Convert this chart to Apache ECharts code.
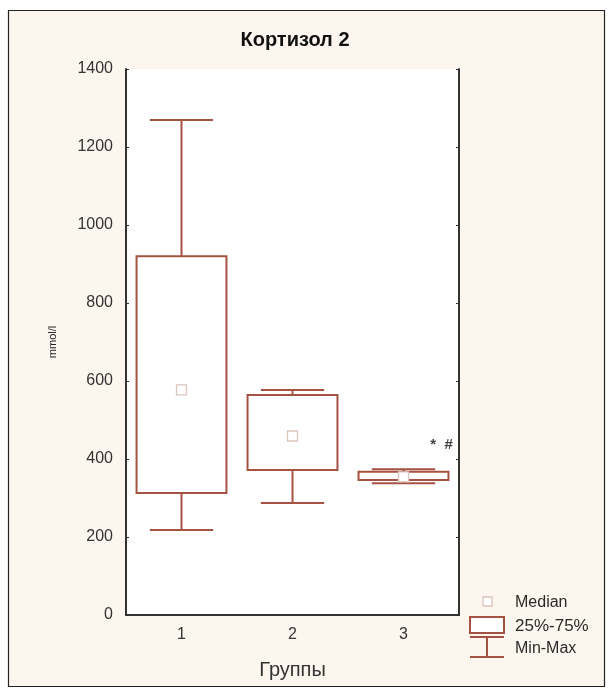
<!DOCTYPE html>
<html>
<head>
<meta charset="utf-8">
<script src="https://cdn.jsdelivr.net/npm/echarts@6/dist/echarts.min.js"></script>
<style>
html,body{margin:0;padding:0;background:#fff;}
#chart{width:612px;height:693px;}
</style>
</head>
<body>
<div id="chart"></div>
<script>
const categories = ['1', '2', '3'];
const minVals = [218, 287, 338];
const q1Vals = [313, 372, 346];
const medianVals = [577, 459, 354];
const q3Vals = [920, 564, 367];
const maxVals = [1269, 577, 374];
const yTicks = [0, 200, 400, 600, 800, 1000, 1200, 1400];
const annotationText = '*  #';
const annotationValue = 436;

const boxColor = '#a65242';
const medColor = '#dcc4bc';
const axisColor = '#333';
const FONT = '"Liberation Sans", Arial, sans-serif';

const boxData = categories.map((c, i) => [i, minVals[i], q1Vals[i], medianVals[i], q3Vals[i], maxVals[i]]);

function renderBox(params, api) {
  const idx = api.value(0);
  const band = api.size([1, 0])[0];
  const cx = api.coord([idx, 0])[0];
  const yMin = api.coord([idx, api.value(1)])[1];
  const yQ1 = api.coord([idx, api.value(2)])[1];
  const yMed = api.coord([idx, api.value(3)])[1];
  const yQ3 = api.coord([idx, api.value(4)])[1];
  const yMax = api.coord([idx, api.value(5)])[1];
  const bw = band * 0.81;
  const cw = band * 0.57;
  const st = { stroke: boxColor, lineWidth: 2, fill: null };
  return {
    type: 'group',
    children: [
      { type: 'line', shape: { x1: cx, y1: yMax, x2: cx, y2: yQ3 }, style: st },
      { type: 'line', shape: { x1: cx, y1: yQ1, x2: cx, y2: yMin }, style: st },
      { type: 'line', shape: { x1: cx - cw / 2, y1: yMax, x2: cx + cw / 2, y2: yMax }, style: st },
      { type: 'line', shape: { x1: cx - cw / 2, y1: yMin, x2: cx + cw / 2, y2: yMin }, style: st },
      { type: 'rect', shape: { x: cx - bw / 2, y: yQ3, width: bw, height: yQ1 - yQ3 }, style: { stroke: boxColor, lineWidth: 2, fill: '#fff' } },
      { type: 'rect', shape: { x: cx - 5, y: yMed - 5, width: 10, height: 10 }, style: { stroke: medColor, lineWidth: 1.3, fill: '#fff' } }
    ]
  };
}

const chart = echarts.init(document.getElementById('chart'), null, { renderer: 'canvas' });
const option = {
  animation: false,
  backgroundColor: '#fff',
  graphic: [
    { type: 'rect', z: -10, shape: { x: 8.5, y: 10.5, width: 596, height: 676 }, style: { fill: '#fdf6ee', stroke: '#222', lineWidth: 1.2 } },
    // legend
    { type: 'rect', shape: { x: 483, y: 597, width: 9, height: 9 }, style: { fill: '#fff', stroke: medColor, lineWidth: 1.3 } },
    { type: 'text', style: { x: 515, y: 603, text: 'Median', font: '16px ' + FONT, fill: '#2a2a2a', verticalAlign: 'middle' } },
    { type: 'rect', shape: { x: 470, y: 617, width: 34, height: 16 }, style: { fill: '#fff', stroke: boxColor, lineWidth: 2 } },
    { type: 'text', style: { x: 515, y: 626, text: '25%-75%', font: '17px ' + FONT, fill: '#2a2a2a', verticalAlign: 'middle' } },
    { type: 'line', shape: { x1: 470, y1: 637, x2: 504, y2: 637 }, style: { stroke: boxColor, lineWidth: 2 } },
    { type: 'line', shape: { x1: 487, y1: 637, x2: 487, y2: 657 }, style: { stroke: boxColor, lineWidth: 2 } },
    { type: 'line', shape: { x1: 470, y1: 657, x2: 504, y2: 657 }, style: { stroke: boxColor, lineWidth: 2 } },
    { type: 'text', style: { x: 515, y: 649, text: 'Min-Max', font: '16px ' + FONT, fill: '#2a2a2a', verticalAlign: 'middle' } }
  ],
  title: {
    text: 'Кортизол 2',
    left: 290, top: 25, textAlign: 'center',
    textStyle: { fontFamily: FONT, fontSize: 20, fontWeight: 'bold', color: '#111' }
  },
  grid: { left: 126, right: 153, top: 69, bottom: 78, show: true, backgroundColor: '#fff', borderWidth: 0 },
  xAxis: [
    {
      type: 'category', data: categories, position: 'bottom',
      name: 'Группы', nameLocation: 'middle', nameGap: 45,
      nameTextStyle: { fontFamily: FONT, fontSize: 20, color: '#333' },
      axisLine: { lineStyle: { color: axisColor, width: 2 } },
      axisTick: { inside: true, alignWithLabel: true, length: 3, lineStyle: { color: axisColor } },
      axisLabel: { fontFamily: FONT, fontSize: 16, color: '#333', margin: 12 },
      splitLine: { show: false }
    },
    {
      type: 'category', data: categories, position: 'top',
      axisLine: { lineStyle: { color: axisColor, width: 2 } },
      axisTick: { inside: true, alignWithLabel: true, length: 3, lineStyle: { color: axisColor } },
      axisLabel: { show: false }
    }
  ],
  yAxis: [
    {
      type: 'value', min: 0, max: 1400, interval: 200, position: 'left',
      name: 'mmol/l', nameLocation: 'middle', nameGap: 68, nameRotate: 90,
      nameTextStyle: { fontFamily: FONT, fontSize: 11, color: '#222' },
      axisLine: { show: true, lineStyle: { color: axisColor, width: 2 } },
      axisTick: { show: true, inside: true, length: 3, lineStyle: { color: axisColor } },
      axisLabel: { fontFamily: FONT, fontSize: 16, color: '#333', margin: 13,
        formatter: v => yTicks.includes(v) ? String(v) : '' },
      splitLine: { show: false }
    },
    {
      type: 'value', min: 0, max: 1400, interval: 200, position: 'right',
      axisLine: { show: true, lineStyle: { color: axisColor, width: 2 } },
      axisTick: { show: true, inside: true, length: 3, lineStyle: { color: axisColor } },
      axisLabel: { show: false },
      splitLine: { show: false }
    }
  ],
  series: [
    {
      type: 'custom', xAxisIndex: 0, yAxisIndex: 0,
      renderItem: renderBox,
      encode: { x: 0, y: [1, 2, 3, 4, 5] },
      data: boxData
    },
    {
      type: 'scatter', xAxisIndex: 0, yAxisIndex: 0,
      symbolSize: 0,
      data: [[2, annotationValue]],
      label: {
        show: true, formatter: annotationText, position: 'inside', offset: [38, 0],
        fontFamily: FONT, fontSize: 15, fontWeight: 'bold', color: '#111'
      }
    }
  ]
};
chart.setOption(option);
</script>
</body>
</html>
